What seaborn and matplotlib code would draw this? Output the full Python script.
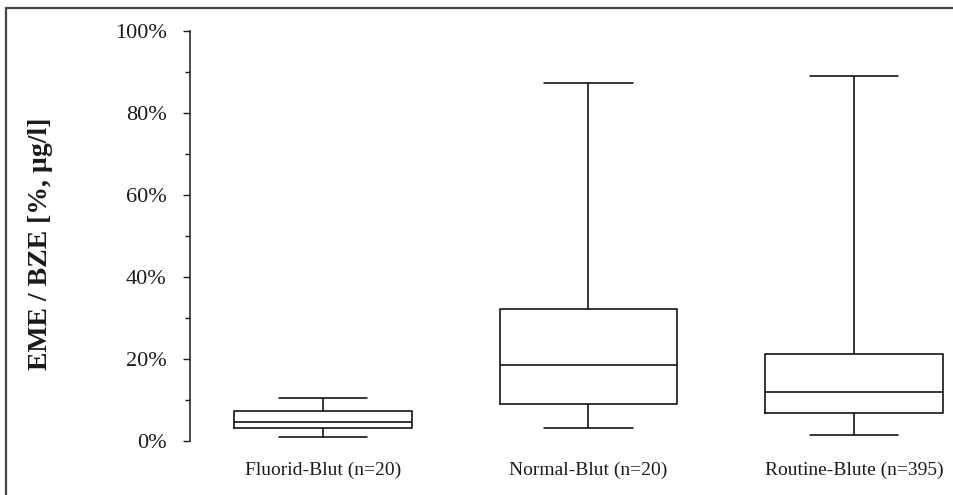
import matplotlib
matplotlib.use("Agg")
import matplotlib.pyplot as plt
from matplotlib.lines import Line2D
from matplotlib.ticker import MultipleLocator, FuncFormatter
import seaborn as sns
import pandas as pd

# Five-number summaries (percent) per sample group
groups = ["Fluorid-Blut (n=20)", "Normal-Blut (n=20)", "Routine-Blute (n=395)"]
lower = [1.0, 3.1, 1.5]
q1 = [3.1, 9.0, 6.8]
median = [4.6, 18.5, 12.0]
q3 = [7.3, 32.3, 21.1]
upper = [10.6, 87.4, 89.0]

# Long-form table: the five summary points of each group reproduce the
# same quartiles and extremes under linear percentile interpolation
rows = []
for g, a, b, c, d, e in zip(groups, lower, q1, median, q3, upper):
    for v in (a, b, c, d, e):
        rows.append({"Gruppe": g, "Wert": v})
df = pd.DataFrame(rows)

sns.set_theme(style="white")
plt.rcParams["font.family"] = ["Liberation Serif", "DejaVu Serif"]

W, H = 954, 495
fig = plt.figure(figsize=(W / 100, H / 100), dpi=100)

# axes placed in pixel terms: x spine at 190 px, 0% at y=441 px, 100% at y=31 px
spacing = 265.5
ax_left = 190.25
ax = fig.add_axes([ax_left / W, (H - 441) / H, 3 * spacing / W, 410 / H])

sns.boxplot(
    data=df, x="Gruppe", y="Wert", order=groups, ax=ax,
    whis=(0, 100), width=0.67, fill=False, color="black",
    linecolor="#1a1a1a", linewidth=1.1, showfliers=False,
)

ax.set_xlim(-0.5, 2.5)
ax.set_ylim(0, 100)
ax.yaxis.set_major_locator(MultipleLocator(20))
ax.yaxis.set_minor_locator(MultipleLocator(10))
ax.yaxis.set_major_formatter(FuncFormatter(lambda v, _: f"{v:.0f}%"))

for side in ("top", "right", "bottom"):
    ax.spines[side].set_visible(False)
ax.spines["left"].set_color("#1a1a1a")
ax.spines["left"].set_linewidth(1.1)

ax.tick_params(axis="y", which="major", direction="out", length=5, width=1.0,
               color="#1a1a1a", left=True, labelsize=16, pad=12, labelcolor="#1a1a1a")
ax.tick_params(axis="y", which="minor", direction="out", length=3.6, width=1.0,
               color="#1a1a1a", left=True)
ax.tick_params(axis="x", length=0, labelsize=14, pad=15, labelcolor="#1a1a1a")

ax.set_xlabel("")
ax.set_ylabel("EME / BZE [%, µg/l]", fontsize=20, fontweight="bold", color="#1a1a1a")
ax.yaxis.set_label_coords((40 - ax_left) / (3 * spacing), (441 - 244) / 410)
ax.yaxis.label.set_va("center")

# outer frame (top and left edges)
fig.add_artist(Line2D([6 / W, 6 / W], [1 - 7.5 / H, 0], transform=fig.transFigure,
                      color="#444444", linewidth=1.6))
fig.add_artist(Line2D([6 / W, 1], [1 - 7.5 / H, 1 - 7.5 / H], transform=fig.transFigure,
                      color="#444444", linewidth=1.6))

fig.savefig("out.png", dpi=100)
